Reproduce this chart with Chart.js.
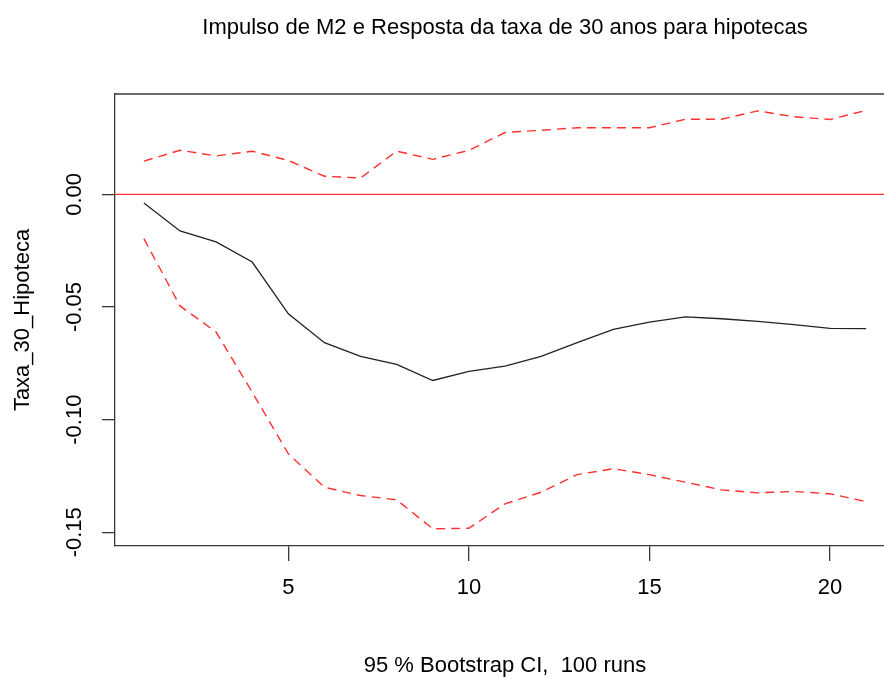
<!DOCTYPE html>
<html>
<head>
<meta charset="utf-8">
<script src="https://cdn.jsdelivr.net/npm/chart.js@4.4.1/dist/chart.umd.min.js"></script>
<style>
  html, body { margin: 0; padding: 0; background: #fff; overflow: hidden; width: 884px; height: 679px; }
  canvas { display: block; }
</style>
</head>
<body>
<canvas id="irfChart" width="910" height="679"></canvas>
<script>
// horizonte do impulso-resposta
const steps = [1, 2, 3, 4, 5, 6, 7, 8, 9, 10, 11, 12, 13, 14, 15, 16, 17, 18, 19, 20, 21];
const irf = [-0.0038, -0.0162, -0.0211, -0.0300, -0.0530, -0.0658, -0.0719, -0.0755, -0.0826, -0.0786, -0.0762,
             -0.0719, -0.0658, -0.0599, -0.0567, -0.0544, -0.0552, -0.0564, -0.0578, -0.0595, -0.0596];
const upper = [0.0148, 0.0196, 0.0171, 0.0192, 0.0151, 0.0081, 0.0073, 0.0192, 0.0156, 0.0196, 0.0275,
               0.0285, 0.0296, 0.0296, 0.0296, 0.0334, 0.0334, 0.0371, 0.0345, 0.0333, 0.0373];
const lower = [-0.0196, -0.0495, -0.0611, -0.0878, -0.1152, -0.1300, -0.1337, -0.1356, -0.1485, -0.1482, -0.1374,
               -0.1322, -0.1244, -0.1218, -0.1244, -0.1278, -0.1312, -0.1325, -0.1319, -0.1329, -0.1364];
const xTicks = [5, 10, 15, 20];
const yTicks = [0, -0.05, -0.10, -0.15];

const FONT = 'Liberation Sans, Arial, sans-serif';
const FS = 22;
const toPts = (vals) => steps.map((s, i) => ({ x: s, y: vals[i] }));

// caixa do grafico, linha do zero e rotulos verticais do eixo y (estilo R)
const rStyle = {
    id: 'rStyle',
    beforeDatasetsDraw(chart) {
        const { ctx, chartArea: a, scales: { y } } = chart;
        const y0 = y.getPixelForValue(0);
        ctx.save();
        ctx.strokeStyle = '#ff3030';
        ctx.lineWidth = 1.2;
        ctx.beginPath();
        ctx.moveTo(a.left, y0);
        ctx.lineTo(a.right, y0);
        ctx.stroke();
        ctx.restore();
    },
    afterDraw(chart) {
        const { ctx, chartArea: a, scales: { y } } = chart;
        ctx.save();
        ctx.strokeStyle = '#3a3a3a';
        ctx.lineWidth = 1.3;
        ctx.beginPath();
        ctx.moveTo(a.left, a.top);
        ctx.lineTo(a.right, a.top);
        ctx.lineTo(a.right, a.bottom);
        ctx.stroke();

        ctx.fillStyle = '#000';
        ctx.font = FS + 'px ' + FONT;
        ctx.textAlign = 'center';
        ctx.textBaseline = 'middle';
        y.ticks.forEach(t => {
            const py = y.getPixelForValue(t.value);
            ctx.save();
            ctx.translate(a.left - 40, py);
            ctx.rotate(-Math.PI / 2);
            ctx.fillText(t.value.toFixed(2), 0, 0);
            ctx.restore();
        });
        ctx.restore();
    }
};

new Chart(document.getElementById('irfChart'), {
    type: 'scatter',
    data: {
        datasets: [
            { label: 'irf', data: toPts(irf), showLine: true, borderColor: '#222', borderWidth: 1.3, pointRadius: 0 },
            { label: 'upper', data: toPts(upper), showLine: true, borderColor: '#ff3030', borderWidth: 1.4, borderDash: [9, 6], pointRadius: 0 },
            { label: 'lower', data: toPts(lower), showLine: true, borderColor: '#ff3030', borderWidth: 1.4, borderDash: [9, 6], pointRadius: 0 }
        ]
    },
    options: {
        responsive: false,
        animation: false,
        layout: { padding: { left: 0, top: 0, bottom: 0, right: 15 } },
        plugins: {
            legend: { display: false },
            tooltip: { enabled: false },
            title: {
                display: true,
                text: 'Impulso de M2 e Resposta da taxa de 30 anos para hipotecas',
                fullSize: false,
                color: '#000',
                font: { family: FONT, size: FS, weight: 'normal' },
                padding: { top: 14.3, bottom: 53.3 }
            }
        },
        scales: {
            x: {
                type: 'linear',
                min: 0.2,
                max: 21.8,
                afterBuildTicks: (s) => { s.ticks = xTicks.map(v => ({ value: v })); },
                afterFit: (s) => { s.height = 133; },
                grid: { drawOnChartArea: false, tickLength: 15, color: '#3a3a3a', lineWidth: 1.3 },
                border: { display: true, color: '#3a3a3a', width: 1.3 },
                ticks: { color: '#000', padding: 14, font: { family: FONT, size: FS }, maxRotation: 0 },
                title: {
                    display: true,
                    text: '95 % Bootstrap CI,  100 runs',
                    color: '#000',
                    font: { family: FONT, size: FS },
                    padding: 0
                }
            },
            y: {
                min: -0.1561,
                max: 0.0446,
                afterBuildTicks: (s) => { s.ticks = yTicks.map(v => ({ value: v })); },
                afterFit: (s) => { s.width = 115; },
                grid: { drawOnChartArea: false, tickLength: 13, color: '#3a3a3a', lineWidth: 1.3 },
                border: { display: true, color: '#3a3a3a', width: 1.3 },
                ticks: { display: false },
                title: {
                    display: true,
                    text: 'Taxa_30_Hipoteca',
                    color: '#000',
                    font: { family: FONT, size: FS },
                    padding: { top: 10, bottom: 0 }
                }
            }
        }
    },
    plugins: [rStyle]
});
</script>
</body>
</html>
